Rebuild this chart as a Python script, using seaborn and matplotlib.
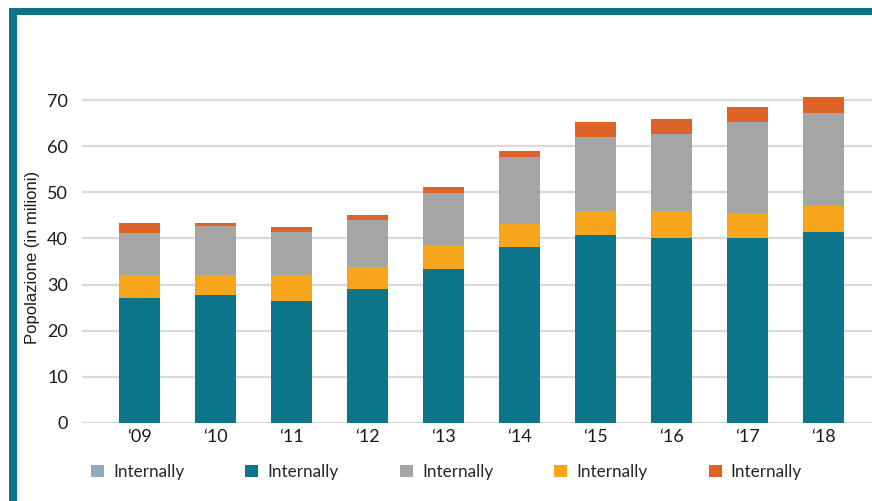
import matplotlib
matplotlib.use("Agg")
import matplotlib.pyplot as plt
from matplotlib.patches import Patch, Rectangle
import numpy as np
import pandas as pd
import seaborn as sns

# Data (millions)
years = ["‘09", "‘10", "‘11", "‘12", "‘13", "‘14", "‘15", "‘16", "‘17", "‘18"]
series_names = ["Internally", "Internally", "Internally", "Internally", "Internally"]
light = [0, 0, 0, 0, 0, 0, 0, 0, 0, 0]
teal = [27.1, 27.7, 26.4, 29.0, 33.4, 38.1, 40.8, 40.1, 40.1, 41.4]
orange = [5.0, 4.4, 5.7, 4.8, 5.2, 5.0, 5.1, 5.8, 5.4, 5.6]
gray = [9.1, 10.7, 9.3, 10.2, 11.2, 14.6, 16.1, 16.7, 19.7, 20.2]
red = [2.1, 0.5, 1.1, 1.1, 1.3, 1.3, 3.2, 3.3, 3.3, 3.5]
y_ticks = [0, 10, 20, 30, 40, 50, 60, 70]
y_label = "Popolazione (in milioni)"

colors = ["#8fabb9", "#0c7589", "#a5a5a5", "#f7a51b", "#dd6426"]
stack_order = [("light", light, colors[0]), ("teal", teal, colors[1]),
               ("orange", orange, colors[3]), ("gray", gray, colors[2]),
               ("red", red, colors[4])]

sns.set_theme(style="white")
plt.rcParams["font.family"] = ["Lato", "DejaVu Sans"]

fig = plt.figure(figsize=(8.72, 5.01), dpi=100)
ax = fig.add_axes([0.094, 0.1557, 0.906, 0.7367])

# cumulative stack heights, drawn top layer first
df = pd.DataFrame({"year": years})
running = np.zeros(len(years))
cums = []
for name, vals, col in stack_order:
    running = running + np.array(vals, dtype=float)
    cums.append((name, running.copy(), col))

for name, cum, col in reversed(cums):
    df[name] = cum
    sns.barplot(data=df, x="year", y=name, color=col, width=0.54,
                saturation=1, ax=ax, zorder=3, linewidth=0)

ax.set_xlim(-0.757, 9.645)
ax.set_ylim(0, 80)
ax.set_yticks(y_ticks)
ax.set_yticklabels([str(t) for t in y_ticks], fontsize=13, color="#1a1a1a")
ax.tick_params(axis="x", labelsize=13, labelcolor="#1a1a1a", pad=4, length=0)
ax.tick_params(axis="y", pad=10, length=0)
ax.set_xlabel("")
ax.set_ylabel("")
fig.text(33 / 872, (501 - 257) / 501, y_label, rotation=90, ha="center", va="center",
         fontsize=12, color="#1a1a1a", family=["Liberation Sans", "DejaVu Sans"])
ax.yaxis.grid(True, color="#d9d9d9", linewidth=1.6, zorder=0)
ax.xaxis.grid(False)
for s in ax.spines.values():
    s.set_visible(False)

# legend
handles = [Patch(facecolor=c, edgecolor="none") for c in colors]
fig.legend(handles, series_names, loc="center left", bbox_to_anchor=(91 / 872, 0.058),
           ncol=5, frameon=False, fontsize=12.3, handlelength=0.76, handleheight=0.76,
           handletextpad=0.53, columnspacing=3.58, borderaxespad=0, borderpad=0)

# teal frame at top and left
frame_col = "#0b7587"
fig.patches.append(Rectangle((9 / 872, 0), 8 / 872, (501 - 8) / 501,
                             transform=fig.transFigure, facecolor=frame_col,
                             edgecolor="none", zorder=10))
fig.patches.append(Rectangle((9 / 872, (501 - 15.3) / 501), 1 - 9 / 872, 7.3 / 501,
                             transform=fig.transFigure, facecolor=frame_col,
                             edgecolor="none", zorder=10))

fig.savefig("out.png", dpi=100)
